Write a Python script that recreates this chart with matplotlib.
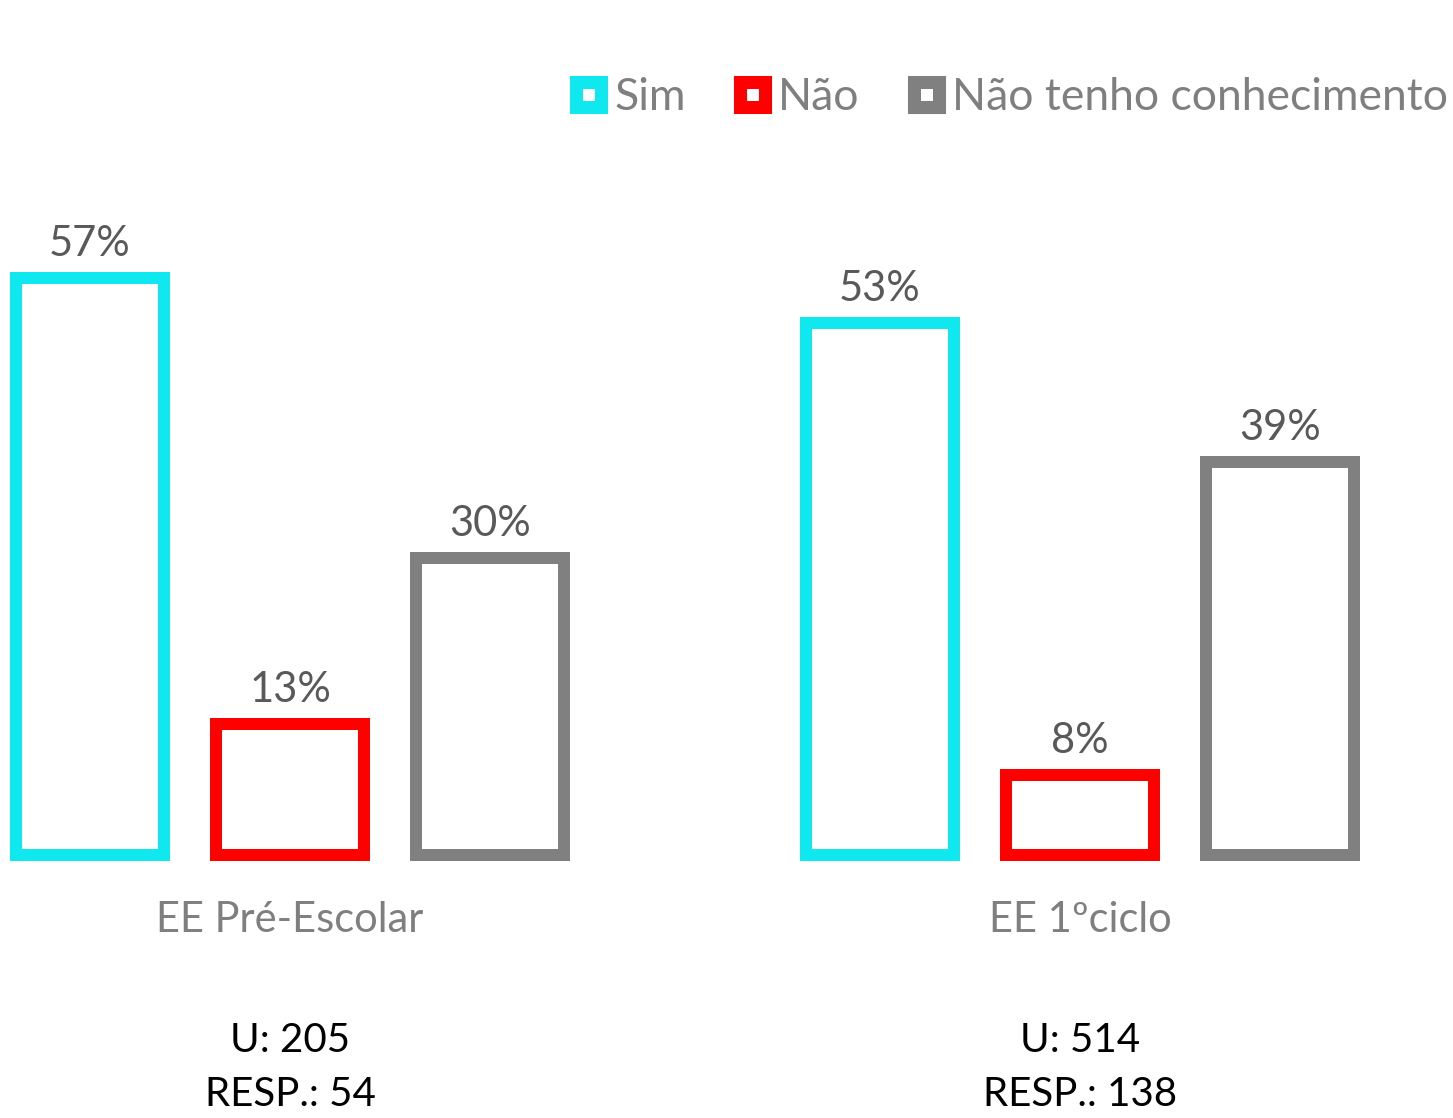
import matplotlib
matplotlib.use("Agg")
import matplotlib.pyplot as plt
from matplotlib.lines import Line2D
import matplotlib.transforms as mtransforms

plt.rcParams['font.family'] = ['Lato', 'DejaVu Sans']

groups = ["EE Pré-Escolar", "EE 1ºciclo"]
series = ["Sim", "Não", "Não tenho conhecimento"]
values = {
    "Sim": [57.4, 52.9],
    "Não": [13.0, 8.0],
    "Não tenho conhecimento": [29.6, 39.1],
}
labels = {
    "Sim": ["57%", "53%"],
    "Não": ["13%", "8%"],
    "Não tenho conhecimento": ["30%", "39%"],
}
colors = {"Sim": "#10E8F0", "Não": "#FF0000", "Não tenho conhecimento": "#808080"}
footer_u = ["U: 205", "U: 514"]
footer_resp = ["RESP.: 54", "RESP.: 138"]

W, H, DPI = 1453, 1118, 100
fig = plt.figure(figsize=(W / DPI, H / DPI), dpi=DPI)
ax = fig.add_axes([0, 0, 1, 1])
ax.set_xlim(-0.45, (W - 90) / 200)
px_per = 10.05
base = 855
ax.set_ylim(-(H - base) / px_per, base / px_per)
ax.axis('off')

group_offsets = [0.0, 3.95]
bar_w = 0.74
lw = 12 * 72 / DPI
text_gray = "#595959"
fs = 30

for gi, g in enumerate(groups):
    for si, s in enumerate(series):
        x = group_offsets[gi] + si
        v = values[s][gi]
        ax.bar(x, v, width=bar_w, facecolor='white', edgecolor=colors[s],
               linewidth=lw, joinstyle='miter')
        ax.annotate(labels[s][gi], (x, v), xytext=(0, 22 * 72 / DPI), textcoords='offset points',
                    ha='center', va='baseline', fontsize=fs, color=text_gray)

trans = mtransforms.blended_transform_factory(ax.transData, fig.transFigure)
for gi, g in enumerate(groups):
    cx = group_offsets[gi] + 1
    ax.text(cx, 1 - 920 / H, g, transform=trans, ha='center', va='center',
            fontsize=fs, color="#7F7F7F")
    ax.text(cx, 1 - 1040 / H, footer_u[gi], transform=trans, ha='center', va='center',
            fontsize=29, color="black")
    ax.text(cx, 1 - 1095 / H, footer_resp[gi], transform=trans, ha='center', va='center',
            fontsize=29, color="black")

handles = [Line2D([], [], linestyle='none', marker='s', markersize=18,
                  markerfacecolor='white', markeredgecolor=colors[s], markeredgewidth=9.4)
           for s in series]
leg = fig.legend(handles, series, loc='center right', bbox_to_anchor=(1448 / W, 1 - 97 / H),
                 ncol=3, frameon=False, fontsize=32, handlelength=0.78, handletextpad=0.2,
                 columnspacing=1.1, borderpad=0, borderaxespad=0)
for t in leg.get_texts():
    t.set_color("#7F7F7F")

fig.savefig("out.png", dpi=DPI)
